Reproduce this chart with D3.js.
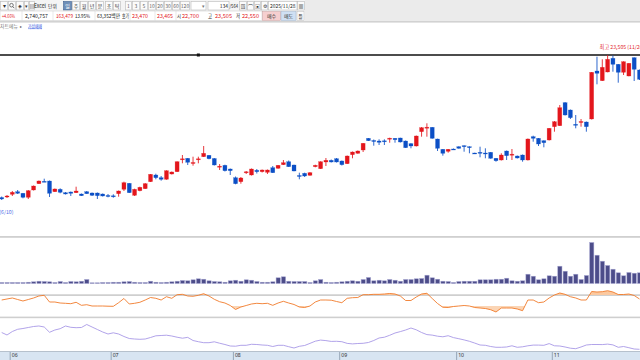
<!DOCTYPE html>
<html><head><meta charset="utf-8">
<script src="https://cdn.jsdelivr.net/npm/d3@7"></script>
<style>html,body{margin:0;padding:0;background:#fff;overflow:hidden}svg{display:block;font-family:"Noto Sans CJK KR","Noto Sans",sans-serif}</style>
</head><body><svg id="c" width="640" height="360"></svg>
<script>
// ---- data (daily candles) ----
const opens  = [16380,16405,16540,16670,16590,16390,16755,17070,17190,17205,16670,16790,16620,16655,16620,16555,16670,16605,16605,16555,16480,16465,16570,16790,17090,16490,16720,16820,17170,17505,17370,17290,17555,17670,18290,18340,18105,18295,18420,18490,18330,17930,17990,17805,17370,17170,17640,17505,17740,17670,17640,17870,17840,18020,18170,18005,17480,17590,17490,17920,17820,18155,18240,18320,18205,18070,18520,18590,18755,19340,19230,19205,19215,19330,19340,19355,19205,19070,18955,19670,19880,19890,19305,18790,18690,18805,18920,18970,18920,18605,18640,18605,18640,18340,18255,18705,18530,18455,18505,18255,19420,19340,19220,19255,19920,19970,21120,20755,20040,20160,20155,20305,22705,22220,22655,23340,23040,22640,22455,23370,22755];
const highs  = [16430,16505,16705,16755,16605,16755,16980,17230,17320,17230,16830,16840,16655,16680,16920,16580,16705,16630,16630,16580,16555,16540,16730,17170,17105,16820,16920,17105,17555,17570,17455,17740,17680,18190,18505,18355,18420,18420,18955,18505,18355,18055,18020,17830,17430,17405,17705,17830,17805,17780,17780,17955,18005,18255,18230,18020,17620,17620,17655,18020,18190,18355,18280,18355,18230,18480,18680,18730,19105,19355,19280,19290,19290,19370,19355,19370,19230,19105,19480,19905,20090,19905,19320,18805,18805,18830,18940,18990,18940,18620,18920,18840,18655,18355,18590,18730,18805,18480,18530,19330,19470,19355,19240,19855,20205,21005,21155,20780,20505,20305,20180,22655,23420,23290,23505,23480,23055,23190,23105,23390,22780];
const lows   = [16255,16355,16455,16555,16340,16305,16730,17055,17155,16405,16655,16590,16530,16455,16605,16455,16555,16455,16305,16430,16390,16370,16420,16705,16605,16455,16690,16805,17155,17290,17220,17270,17530,17655,18090,18005,17970,18090,18405,18290,17980,17755,17680,17505,17040,17070,17555,17480,17580,17630,17555,17605,17820,18005,17905,17690,17290,17405,17470,17890,17805,17955,18130,18130,17980,18055,18340,18570,18655,19205,18970,19005,19005,19120,19120,19130,18855,18840,18930,19420,19420,19320,18705,18470,18620,18755,18820,18670,18590,18565,18390,18340,18320,18170,18230,18255,18255,18330,18170,18230,19170,18955,18890,19230,19670,19955,20480,20305,19840,19920,19670,20280,22040,22205,22640,22670,22120,22505,22440,22205,22255];
const closes = [16305,16455,16640,16590,16390,16720,16955,17205,17165,16590,16805,16640,16555,16590,16705,16470,16570,16490,16470,16455,16455,16445,16705,17120,16620,16790,16890,17070,17540,17370,17290,17720,17655,18170,18315,18140,18130,18315,18590,18320,18005,17945,17720,17720,17070,17355,17665,17805,17670,17755,17755,17620,17990,18120,17920,17705,17455,17455,17620,17990,18170,18240,18155,18155,18020,18455,18655,18705,19090,19220,19205,19140,19195,19345,19270,19155,18870,18955,19455,19870,19895,19340,18840,18590,18790,18770,18840,18920,18870,18580,18590,18580,18340,18220,18505,18470,18545,18355,18255,19305,19340,19055,19120,19840,20170,20870,20505,20370,19990,20180,19920,22640,22590,22890,23290,23040,22640,23170,23090,22790,22290];
// volume, thousand shares
const volumes = [100,100,100,100,100,130,170,230,200,170,100,200,100,200,170,230,400,70,70,100,100,130,130,170,200,130,100,100,230,130,100,130,170,230,300,270,370,470,430,270,200,170,130,270,330,230,370,330,200,130,130,170,570,670,230,200,200,200,100,270,400,130,100,130,170,230,270,230,400,600,270,330,270,400,330,230,400,400,470,500,830,570,430,230,200,100,200,230,230,230,370,370,370,430,430,530,270,230,270,930,730,370,470,770,730,1730,1230,730,930,400,800,4100,2830,2230,1800,1430,1070,770,1100,1030,1070];
// oscillator (orange, 0-100)
const oscA = [51.8,55.5,59.1,53.6,48.2,53.6,59.1,66.4,68.9,44.5,44.5,40.9,39.8,38.4,43.5,32.5,34.7,30,30,30,29.3,28.9,42,57.3,37.3,39.8,43.5,51.8,60.9,58,51.8,63.8,58,71.1,72.5,66.4,65.3,68.9,74.7,66.4,54.4,45.6,40.9,31.8,17.3,26.4,31.8,37.3,39.8,38.4,39.8,32.5,40.9,47.1,40.9,35.5,26.4,24.5,30,44.5,51.8,51.8,51.1,46.4,42,58,60.2,60.9,71.1,71.1,72.5,72.5,73.6,75.4,73.6,66.4,50,50,62.7,73.6,76.2,57.3,39.1,25.3,24.5,28.2,30,31.8,30,24.5,22.7,20.9,16.5,8.2,22.7,22.7,22.7,19.1,12.9,51.8,51.8,42,44.5,59.1,70,77.3,72.5,63.8,59.1,51.8,51.8,82.7,80.9,82,85.6,80.9,71.8,71.8,73.6,68.2,55.5];
// oscillator (purple, 0-100)
const oscB = [65,56.7,68.3,75.7,78.3,81.7,85,86.7,83.3,65.7,73.3,77.7,86.7,82.3,81,81.7,91.7,83.3,75,66.7,60,64,60,51.7,45,43.3,42.3,43.3,48.3,54,55,56,53.3,49.3,46,48.7,38.3,34.3,31,31,34,29.3,25,20,19.3,22.3,22.3,25.7,25,23.3,22.3,18.3,22.3,22.3,17.7,13.3,19,21.7,28.7,36,39.7,38,35.3,35.7,34.3,28.7,27,28.3,29,31.7,38.3,46.7,49.3,55.7,63.3,68,73.3,80,74,65,58,56.3,52.7,50.7,54.3,48,44.3,40.3,35.7,29.7,23.3,22.3,18.3,15.7,15.7,16.7,20.7,15.7,17.3,20.7,23,23,22.3,28,20.7,20,16.7,12.7,11,16.7,23.3,25,25,24.7,26.3,23.7,15.7,18.3,14.3,10,9];
const monthLabels = ["06","07","08","09","10","11"];
const monthStart  = [2,21,44,64,86,104];
const highLabel = "최고 23,505 (11/20)";
const lowLabel  = "최저 16,255 (6/10)";

// ---- drawing ----
const svg = d3.select("#c");
const W = 640;
const n = opens.length;
const RED = "#e3161c", BLUE = "#0c4fc6";
const xs = d3.scaleLinear().domain([0, n-1]).range([1.7, 639.5]);
const yP = d3.scaleLinear().domain([d3.min(lows), d3.max(highs)]).range([200, 55]);
const yV = d3.scaleLinear().domain([0, d3.max(volumes)]).range([283.5, 242.5]);
const yA = d3.scaleLinear().domain([0,100]).range([314.25, 286.75]);
const yB = d3.scaleLinear().domain([0,100]).range([352, 322]);

svg.append("rect").attr("width",W).attr("height",360).attr("fill","#fff");

// toolbar
const tb = svg.append("g").attr("font-size",5.6);
tb.append("rect").attr("x",0).attr("y",0).attr("width",W).attr("height",21).attr("fill","#ebebeb");
tb.append("rect").attr("x",0).attr("y",0).attr("width",305).attr("height",21).attr("fill","#f4f4f4");
tb.append("rect").attr("x",0).attr("y",21).attr("width",W).attr("height",1.6).attr("fill","#d2d2d2");
function btn(x,w,t,opt={}){
  tb.append("rect").attr("x",x+0.5).attr("y",1.5).attr("width",w-1).attr("height",8.5)
    .attr("fill",opt.fill||"#fbfbfb").attr("stroke",opt.stroke||"#b9b9b9").attr("stroke-width",0.6);
  if(t) tb.append("text").attr("x",x+w/2).attr("y",8.3).attr("text-anchor","middle")
    .attr("fill",opt.color||"#333").attr("font-size",opt.fs||5.6).text(t);
}
btn(0,8,"▾"); btn(8,8,"");
tb.append("circle").attr("cx",11.5).attr("cy",5.2).attr("r",1.8).attr("fill","none").attr("stroke","#444").attr("stroke-width",0.7);
tb.append("line").attr("x1",12.8).attr("y1",6.6).attr("x2",14.3).attr("y2",8.2).attr("stroke","#444").attr("stroke-width",0.8);
btn(16,8,"◈",{fs:5}); btn(24,5,"▾",{fs:4.5});
btn(29,6,"▤",{fs:5});
tb.append("text").attr("x",34).attr("y",8.3).attr("fill","#222").attr("textLength",12).attr("lengthAdjust","spacingAndGlyphs").text("Excel");
tb.append("text").attr("x",48).attr("y",8.3).attr("fill","#222").attr("font-size",4.8).text("단위");
btn(63,9,"일",{fill:"#6f8fb8",stroke:"#3f5f8f",color:"#fff",fs:5});
[["주",72],["월",80],["년",88],["분",96],["초",105],["틱",113]].forEach(d=>btn(d[1],8,d[0],{fs:5}));
[["1",125,7],["3",132,8],["5",140,8],["10",148,8],["20",156,8],["30",164,8],["60",172,8],["120",180,10]].forEach(d=>btn(d[1],d[2],d[0],{color:"#666",fs:5}));
tb.append("rect").attr("x",191).attr("y",1.5).attr("width",15).attr("height",8.5).attr("fill","#fff").attr("stroke","#b9b9b9").attr("stroke-width",0.6);
tb.append("text").attr("x",202).attr("y",8.3).attr("fill","#777").attr("font-size",4.5).text("▾");
tb.append("rect").attr("x",208).attr("y",1.5).attr("width",21).attr("height",8.5).attr("fill","#fff").attr("stroke","#b9b9b9").attr("stroke-width",0.6);
tb.append("text").attr("x",228).attr("y",8.3).attr("text-anchor","end").attr("fill","#222").attr("font-size",5).text("134");
tb.append("text").attr("x",229.5).attr("y",8.3).attr("fill","#222").attr("font-size",5).attr("textLength",8.5).attr("lengthAdjust","spacingAndGlyphs").text("/564");
btn(239,8,"▧",{fs:5}); btn(247,7,"⌒",{fs:5}); btn(254,7,"▣",{fs:5}); btn(261,7,"⚙",{fs:5});
tb.append("rect").attr("x",268.5).attr("y",1.5).attr("width",28.5).attr("height",8.5).attr("fill","#fff").attr("stroke","#b9b9b9").attr("stroke-width",0.6);
tb.append("text").attr("x",270).attr("y",8.3).attr("fill","#222").attr("font-size",5).attr("textLength",25.5).attr("lengthAdjust","spacingAndGlyphs").text("2025/11/28");
btn(297,8,"▦",{fs:5});
// row 2
tb.append("rect").attr("x",0).attr("y",11).attr("width",262).attr("height",9.5).attr("fill","#fff").attr("stroke","#c8c8c8").attr("stroke-width",0.5);
[22,53,95,130,155,176].forEach(x=>tb.append("line").attr("x1",x).attr("x2",x).attr("y1",11).attr("y2",20.5).attr("stroke","#d0d0d0").attr("stroke-width",0.5));
const row2 = [["+4.66%",2,RED,13],["2,740,757",25,"#222",23],["163,479",56,RED,17],["13.95%",75,"#222",15],["63,352백만",97,"#222",23],["호가",122,"#222",7],["23,470",132,RED,16],["23,465",157,RED,16],["시",177,"#222",4],["22,700",182,RED,17],["고",208,"#222",4],["23,505",215,RED,17],["저",236,"#222",4],["22,550",242,RED,17]];
row2.forEach(d=>tb.append("text").attr("x",d[1]).attr("y",18.3).attr("fill",d[2]).attr("font-size",5.4)
  .attr("textLength",d[3]).attr("lengthAdjust","spacingAndGlyphs").text(d[0]));
tb.append("rect").attr("x",262.5).attr("y",11.5).attr("width",18).attr("height",9).attr("fill","#f6cfcf").attr("stroke","#c9a0a0").attr("stroke-width",0.5);
tb.append("text").attr("x",271.5).attr("y",18.3).attr("text-anchor","middle").attr("fill","#333").attr("font-size",5).text("매수");
tb.append("rect").attr("x",281).attr("y",11.5).attr("width",15).attr("height",9).attr("fill","#cfe0f3").attr("stroke","#9fb3c9").attr("stroke-width",0.5);
tb.append("text").attr("x",288.5).attr("y",18.3).attr("text-anchor","middle").attr("fill","#333").attr("font-size",5).text("매도");
tb.append("rect").attr("x",297).attr("y",11.5).attr("width",7).attr("height",9).attr("fill","#fbfbfb").attr("stroke","#b9b9b9").attr("stroke-width",0.5);
tb.append("text").attr("x",300.5).attr("y",18.3).attr("text-anchor","middle").attr("fill","#333").attr("font-size",5).text("틀");

// row 3 menu text
svg.append("text").attr("x",0).attr("y",27.6).attr("font-size",4.6).attr("fill","#777").attr("textLength",18).attr("lengthAdjust","spacingAndGlyphs").text("차트메뉴");
svg.append("text").attr("x",20).attr("y",27.6).attr("font-size",4.2).attr("fill","#555").text("▸");
svg.append("text").attr("x",28).attr("y",27.6).attr("font-size",4.6).attr("fill","#2b4fe0").attr("text-decoration","underline").attr("textLength",14).attr("lengthAdjust","spacingAndGlyphs").text("가상매매");

// pane separators
svg.append("rect").attr("x",0).attr("y",236).attr("width",W).attr("height",1.8).attr("fill","#d0d0d0");
svg.append("rect").attr("x",0).attr("y",294.4).attr("width",W).attr("height",1.4).attr("fill","#c4c4c4");
svg.append("rect").attr("x",0).attr("y",316.6).attr("width",W).attr("height",1.6).attr("fill","#cfcfcf");

// high line + marker
const hiY = yP(d3.max(highs));
svg.append("line").attr("x1",0).attr("x2",W).attr("y1",hiY).attr("y2",hiY).attr("stroke","#111").attr("stroke-width",1.4);
svg.append("rect").attr("x",xs(37)-1.5).attr("y",hiY-1.5).attr("width",3).attr("height",3).attr("fill","#111");
const hiIdx = highs.indexOf(d3.max(highs));
svg.append("text").attr("x",xs(hiIdx)-8).attr("y",hiY-6.5).attr("font-size",5.2).attr("fill","#e3262c").text(highLabel);
svg.append("text").attr("x",13.5).attr("y",213.5).attr("text-anchor","end").attr("font-size",5.2).attr("fill","#4f6fe8").text(lowLabel);

// candles
const cg = svg.append("g");
const idx = d3.range(n);
const col = i => closes[i] >= opens[i] ? RED : BLUE;
cg.selectAll("line.w").data(idx).join("line")
  .attr("x1",i=>xs(i)).attr("x2",i=>xs(i))
  .attr("y1",i=>yP(highs[i])).attr("y2",i=>yP(lows[i]))
  .attr("stroke",col).attr("stroke-width",1).attr("stroke-opacity",0.85);
cg.selectAll("rect.b").data(idx).join("rect")
  .attr("x",i=>xs(i)-2).attr("width",4)
  .attr("y",i=>Math.min(yP(opens[i]),yP(closes[i])))
  .attr("height",i=>Math.max(1,Math.abs(yP(opens[i])-yP(closes[i]))))
  .attr("fill",col).attr("stroke",col).attr("stroke-width",0.5).attr("stroke-opacity",0.5);

// volume
svg.append("g").selectAll("rect").data(idx).join("rect")
  .attr("x",i=>xs(i)-2).attr("width",4.2)
  .attr("y",i=>yV(volumes[i])).attr("height",i=>yV(0)-yV(volumes[i]))
  .attr("fill","#4d4d8a").attr("stroke","#a6a6d2").attr("stroke-width",0.5);

// orange oscillator with shaded zones
const defs = svg.append("defs");
defs.append("clipPath").attr("id","cu").append("rect").attr("x",0).attr("y",280).attr("width",W).attr("height",yA(70)-280);
defs.append("clipPath").attr("id","cd").append("rect").attr("x",0).attr("y",yA(30)).attr("width",W).attr("height",316-yA(30));
const aU = d3.area().x((d,i)=>xs(i)).y0(yA(70)).y1(d=>yA(d));
const aD = d3.area().x((d,i)=>xs(i)).y0(yA(30)).y1(d=>yA(d));
svg.append("path").attr("d",aU(oscA)).attr("fill","#fbc9a0").attr("clip-path","url(#cu)");
svg.append("path").attr("d",aD(oscA)).attr("fill","#fbd5b5").attr("clip-path","url(#cd)");
svg.append("path").attr("d",d3.line().x((d,i)=>xs(i)).y(d=>yA(d))(oscA))
  .attr("fill","none").attr("stroke","#f07a2a").attr("stroke-width",0.9);

// purple oscillator
svg.append("path").attr("d",d3.line().x((d,i)=>xs(i)).y(d=>yB(d))(oscB))
  .attr("fill","none").attr("stroke","#a898e6").attr("stroke-width",0.9);

// bottom axis
svg.append("rect").attr("x",0).attr("y",351.5).attr("width",W).attr("height",8.5).attr("fill","#d8e5f2");
svg.append("line").attr("x1",0).attr("x2",W).attr("y1",351.5).attr("y2",351.5).attr("stroke","#a8b4c2").attr("stroke-width",0.8);
const axis = d3.axisBottom(xs).tickValues(monthStart.map(i=>i-0.5)).tickSize(8)
  .tickFormat((d,k)=>monthLabels[k]);
const ag = svg.append("g").attr("transform","translate(0,352)").call(axis);
ag.select(".domain").remove();
ag.selectAll(".tick line").attr("stroke","#8595a8").attr("stroke-width",0.8);
ag.selectAll(".tick text").attr("x",1.5).attr("y",1).attr("dy","0.75em").attr("text-anchor","start")
  .attr("font-size",5.2).attr("fill","#333").attr("font-family","'Noto Sans',sans-serif");
</script>
</body></html>
